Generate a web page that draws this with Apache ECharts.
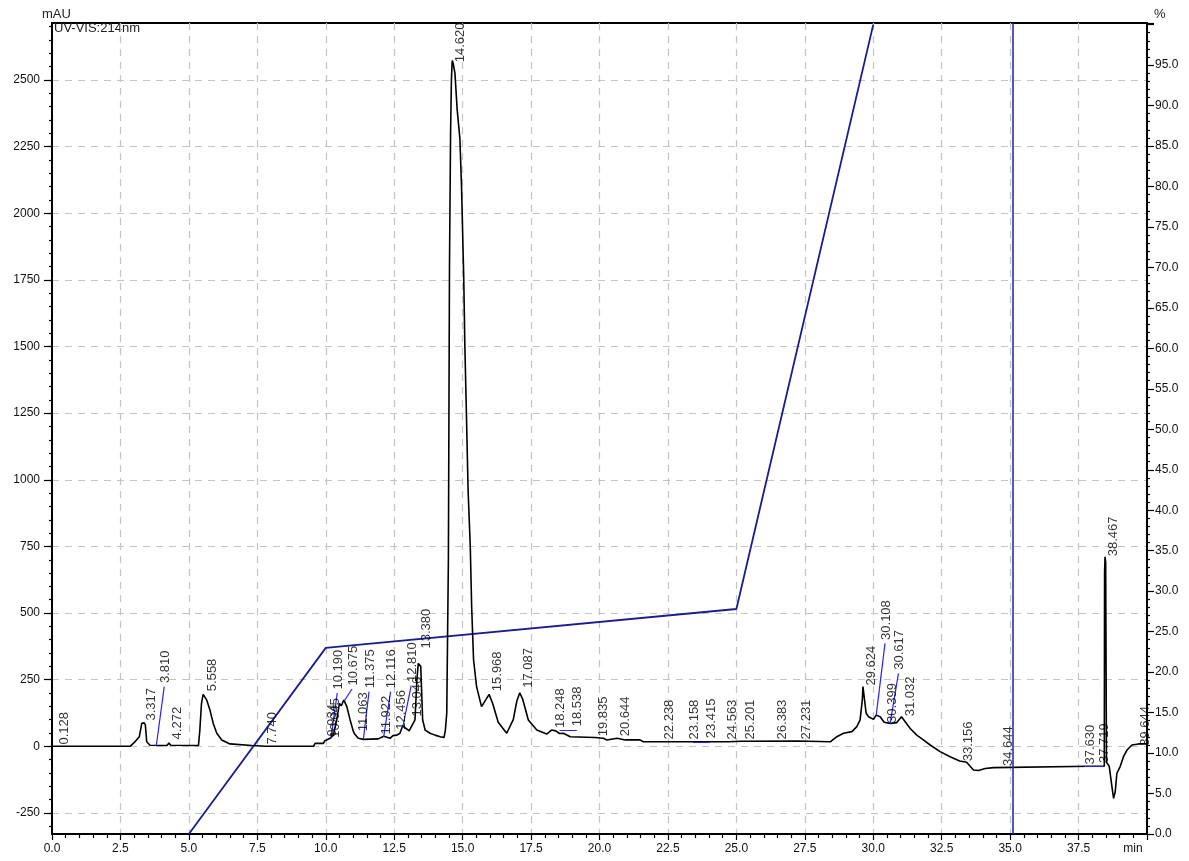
<!DOCTYPE html>
<html>
<head>
<meta charset="utf-8">
<script src="https://cdn.jsdelivr.net/npm/echarts@6/dist/echarts.min.js"></script>
<style>
  html, body { margin: 0; padding: 0; background: #ffffff; }
  #chart { width: 1189px; height: 861px; }
</style>
</head>
<body>
<div id="chart"></div>
<script>
// UV-VIS 214 nm chromatogram: retention time (min) vs absorbance (mAU)
const traceTime = [
  0.0, 0.5, 2.85, 3.03, 3.19, 3.28, 3.317, 3.37, 3.41, 3.46, 3.58, 4.20, 4.272, 4.34,
  5.35, 5.40, 5.46, 5.52, 5.558, 5.65, 5.77, 5.89, 6.02, 6.20, 6.50, 7.30, 7.80,
  9.55, 9.61, 9.91, 9.97, 10.16, 10.28, 10.40, 10.50, 10.57, 10.66, 10.77, 10.89, 11.01,
  11.063, 11.19, 11.375, 11.44, 11.922, 11.98, 12.116, 12.17, 12.35, 12.456, 12.60, 12.71,
  12.81, 12.96, 13.046, 13.10, 13.26, 13.33, 13.38, 13.47, 13.54, 13.63, 13.81, 13.99,
  14.18, 14.32, 14.37, 14.42, 14.48, 14.52, 14.56, 14.59, 14.62, 14.66, 14.72, 14.80,
  14.90, 14.96, 15.04, 15.08, 15.14, 15.20, 15.28, 15.33, 15.40, 15.51, 15.69, 15.85,
  15.968, 16.10, 16.30, 16.61, 16.85, 16.98, 17.087, 17.20, 17.40, 17.71, 18.07, 18.248,
  18.40, 18.538, 18.68, 18.93, 19.835, 20.14, 20.27, 20.644, 20.94, 21.48, 21.60,
  24.563, 24.60, 24.70, 25.201, 27.231, 28.43, 28.67, 28.91, 29.22, 29.40, 29.52, 29.60,
  29.624, 29.74, 29.83, 30.01, 30.108, 30.25, 30.399, 30.617, 30.86, 31.032, 31.16, 31.35,
  31.59, 31.83, 32.08, 32.44, 32.81, 33.156, 33.41, 33.66, 33.84, 34.09, 34.39, 34.45,
  37.92, 38.44, 38.45, 38.467, 38.49, 38.52, 38.62, 38.72, 38.78, 38.84, 38.90, 39.02,
  39.14, 39.27, 39.45, 39.69, 40.0
];
const traceSignal = [
  0, 0, 0, 17, 36, 86, 92, 88, 80, 17, 4, 3, 12, 4,
  3, 60, 160, 195, 199, 174, 136, 86, 49, 24, 9, 3, 0,
  0, 11, 11, 21, 30, 42, 99, 161, 152, 174, 149, 99, 55,
  45, 30, 26, 26, 28, 30, 38, 42, 30, 40, 42, 49,
  76, 65, 58, 55, 99, 250, 311, 300, 99, 61, 49, 42,
  36, 33, 61, 124, 700, 1800, 2300, 2500, 2573, 2560, 2525, 2390,
  2280, 2100, 1760, 1510, 1240, 960, 748, 524, 324, 224, 149, 175,
  195, 160, 90, 49, 100, 170, 201, 175, 99, 61, 46, 61,
  58, 48, 49, 36, 33, 30, 24, 30, 24, 24, 17,
  17, 21, 17, 19, 20, 17, 36, 49, 55, 74, 99, 174,
  224, 124, 111, 101, 117, 111, 90, 86, 89, 111, 93, 67,
  42, 24, 5, -20, -39, -55, -60, -89, -91, -83, -80, -74,
  -75, -75, 650, 711, 690, -60, -75, -152, -195, -170, -101, -76,
  -39, -14, 5, 9, 9
];

// Mobile-phase gradient (% B) on the right axis
const gradientTime = [5.0, 10.0, 25.0, 30.0];
const gradientPercent = [0, 23.0, 27.8, 100];

// Integrated peaks: name = retention time, label foot level in mAU
const peakNames = [
  '0.128', '3.317', '3.810', '4.272', '5.558', '7.740', '9.934', '10.045', '10.190',
  '10.675', '11.063', '11.375', '11.922', '12.116', '12.456', '12.810', '13.046',
  '13.380', '14.620', '15.968', '17.087', '18.248', '18.538', '19.835', '20.644',
  '22.238', '23.158', '23.415', '24.563', '25.201', '26.383', '27.231', '29.624',
  '30.108', '30.399', '30.617', '31.032', '33.156', '34.644', '37.630', '37.719',
  '38.467', '39.644'
];
const labelLevel = [
  5, 95, 224, 24, 205, 5, 35, 30, 200,
  215, 55, 205, 42, 205, 60, 228, 110,
  365, 2565, 205, 218, 67, 62, 36, 36,
  24, 24, 17, 24, 24, 24, 24, 226,
  386, 86, 274, 111, -58, -76, -70, -76,
  711, 0
];
// Raised labels: time where the leader line ends (null = label sits on its peak)
const leaderEnd = [
  null, null, 4.10, null, null, null, null, null, 10.42,
  10.96, null, 11.58, null, 12.37, null, 13.12, null,
  null, null, null, null, null, 19.17, null, null,
  null, null, 24.04, null, null, null, null, null,
  30.43, null, 30.92, null, null, null, null, 38.41,
  null, null
];
// Signal level at the peak where a leader line starts
const leaderFoot = [
  null, null, 2, null, null, null, null, null, 30,
  170, null, 26, null, 35, null, 70, null,
  null, null, null, null, null, 62, null, null,
  null, null, 17, null, null, null, null, null,
  117, null, 86, null, null, null, null, -76,
  null, null
];

const markerTime = 35.1;
const mauTicks = [-250, 0, 250, 500, 750, 1000, 1250, 1500, 1750, 2000, 2250, 2500];

const mauMinorTicks = [];
for (let v = -300; v <= 2700; v += 50) mauMinorTicks.push(v);

const FONT = 'Liberation Sans';
const gridDash = { color: '#c4c4c4', width: 1.2, type: [7, 6] };

const trace = traceTime.map((t, i) => [t, traceSignal[i]]);
const gradient = gradientTime.map((t, i) => [t, gradientPercent[i]]);

const labelPoints = peakNames.map((name, i) => {
  const rt = Number(name);
  const raised = leaderEnd[i] !== null;
  return {
    value: [raised ? leaderEnd[i] : rt, labelLevel[i]],
    label: { formatter: name, position: raised ? [1.5, -3] : [9, 0] }
  };
});
const leaders = [];
peakNames.forEach((name, i) => {
  if (leaderEnd[i] !== null) {
    leaders.push({ coords: [[Number(name), leaderFoot[i]], [leaderEnd[i], labelLevel[i]]] });
  }
});

const chart = echarts.init(document.getElementById('chart'), null, { renderer: 'canvas' });
chart.setOption({
  animation: false,
  backgroundColor: '#ffffff',
  grid: { left: 52, right: 42, top: 23, bottom: 27, show: true, borderColor: '#000', borderWidth: 2, backgroundColor: 'transparent' },
  graphic: [
    { type: 'text', left: 42, top: 8, style: { text: 'mAU', font: '13px ' + FONT, fill: '#222' } },
    { type: 'text', left: 54, top: 22, style: { text: 'UV-VIS:214nm', font: '13px ' + FONT, fill: '#222' } },
    { type: 'text', left: 1154, top: 8, style: { text: '%', font: '13px ' + FONT, fill: '#222' } }
  ],
  xAxis: {
    type: 'value', min: 0, max: 40, interval: 2.5,
    axisLine: { onZero: false, lineStyle: { color: '#000', width: 2 } },
    axisTick: { length: 6, lineStyle: { color: '#000', width: 1.2 } },
    minorTick: { show: true, splitNumber: 5, length: 4, lineStyle: { color: '#000', width: 1.2 } },
    axisLabel: {
      margin: 9, color: '#111', fontFamily: FONT, fontSize: 12,
      formatter: v => (v >= 40 ? '{u|min}' : v.toFixed(1)),
      rich: { u: { fontFamily: FONT, fontSize: 12, color: '#111', padding: [0, 28, 0, 0] } }
    },
    splitLine: { show: true, lineStyle: gridDash }
  },
  yAxis: [
    {
      type: 'value', position: 'left', min: -329, max: 2714,
      axisLine: { show: true, onZero: false, lineStyle: { color: '#000', width: 2 } },
      axisTick: { show: true, customValues: mauTicks, length: 8, lineStyle: { color: '#000', width: 1.2 } },
      axisLabel: {
        customValues: mauTicks, margin: 12, color: '#111', fontFamily: FONT, fontSize: 12,
        formatter: v => String(v)
      },
      splitLine: { show: true, lineStyle: gridDash }
    },
    {
      type: 'value', position: 'left', min: -329, max: 2714,
      axisLine: { show: false, onZero: false },
      axisTick: { show: true, customValues: mauMinorTicks, length: 3, lineStyle: { color: '#000', width: 1.2 } },
      axisLabel: { show: false },
      splitLine: { show: false }
    },
    {
      type: 'value', position: 'right', min: 0, max: 100.2, interval: 5,
      axisLine: { show: true, onZero: false, lineStyle: { color: '#000', width: 2 } },
      axisTick: { show: true, length: 7, lineStyle: { color: '#000', width: 1.2 } },
      minorTick: { show: true, splitNumber: 5, length: 3, lineStyle: { color: '#000', width: 1.2 } },
      axisLabel: {
        margin: 8, color: '#111', fontFamily: FONT, fontSize: 12,
        formatter: v => (v > 99.95 ? '' : v.toFixed(1))
      },
      splitLine: { show: false }
    }
  ],
  series: [
    {
      name: 'Gradient', type: 'line', yAxisIndex: 2, data: gradient,
      symbol: 'none', lineStyle: { color: '#1c1c8c', width: 1.8 }, z: 2
    },
    {
      name: 'UV-VIS 214 nm', type: 'line', yAxisIndex: 0, data: trace,
      symbol: 'none', lineStyle: { color: '#000', width: 1.6 }, z: 3,
      markLine: {
        silent: true, symbol: 'none', label: { show: false },
        lineStyle: { color: '#2a2ac4', width: 1.6, type: 'solid' },
        data: [{ xAxis: markerTime }]
      }
    },
    {
      name: 'Leaders', type: 'lines', coordinateSystem: 'cartesian2d', yAxisIndex: 0,
      data: leaders, lineStyle: { color: '#2424ff', width: 1.2, opacity: 1 }, z: 4
    },
    {
      name: 'Peaks', type: 'scatter', yAxisIndex: 0, data: labelPoints,
      symbolSize: 1, itemStyle: { color: 'rgba(0,0,0,0)' }, z: 5,
      label: {
        show: true, rotate: 90, align: 'left', verticalAlign: 'middle',
        color: '#000', fontFamily: FONT, fontSize: 13
      }
    }
  ]
});
</script>
</body>
</html>
